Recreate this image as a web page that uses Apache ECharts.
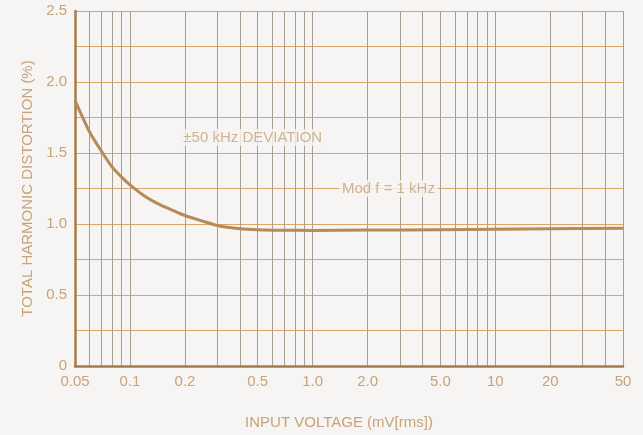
<!DOCTYPE html>
<html lang="en">
  <head>
    <meta charset="UTF-8" />
    <title>THD vs Input Voltage</title>
    <script src="https://cdn.jsdelivr.net/npm/echarts@6.0.0/dist/echarts.min.js"></script>
    <style>
      body {
        margin: 0;
        padding: 0;
        background: #f6f5f3;
      }
      #main {
        width: 643px;
        height: 435px;
      }
    </style>
  </head>
  <body>
    <div id="main"></div>

    <script>
      // curve
      const inputVoltage = [0.05, 0.06, 0.07, 0.08, 0.09, 0.1, 0.12, 0.14, 0.17, 0.2, 0.25, 0.3, 0.4, 0.5, 0.7, 1.0, 2.0, 5.0, 10, 20, 50];
      const thd = [1.87, 1.65, 1.51, 1.4, 1.33, 1.275, 1.197, 1.147, 1.098, 1.06, 1.02, 0.99, 0.967, 0.96, 0.956, 0.955, 0.957, 0.96, 0.963, 0.966, 0.97];

      // log paper grid lines and labelled ticks
      const xGridValues = [
        0.05, 0.06, 0.07, 0.08, 0.09,
        0.1, 0.2, 0.3, 0.4, 0.5, 0.6, 0.7, 0.8, 0.9,
        1, 2, 3, 4, 5, 6, 7, 8, 9,
        10, 20, 30, 40, 50,
      ];
      const xLabelValues = [0.05, 0.1, 0.2, 0.5, 1, 2, 5, 10, 20, 50];
      const xLabelTexts = ["0.05", "0.1", "0.2", "0.5", "1.0", "2.0", "5.0", "10", "20", "50"];
      const yLabelValues = [0, 0.5, 1, 1.5, 2, 2.5];
      const yLabelTexts = ["0", "0.5", "1.0", "1.5", "2.0", "2.5"];

      // annotations: [x, y, text]
      const notes = [
        [0.47, 1.61, "±50 kHz DEVIATION"],
        [2.6, 1.25, "Mod f = 1 kHz"],
      ];

      const textColor = "#c6a37a";
      const font = "'Liberation Sans', Arial, sans-serif";

      const myChart = echarts.init(document.getElementById("main"));
      const option = {
        backgroundColor: "#f6f5f3",
        animation: false,
        grid: { left: 75, right: 20, top: 11, bottom: 69 },
        xAxis: {
          type: "log",
          logBase: 10,
          min: 0.05,
          max: 50,
          name: "INPUT VOLTAGE (mV[rms])",
          nameLocation: "middle",
          nameGap: 49,
          nameTextStyle: {
            color: textColor,
            fontSize: 15,
            fontFamily: font,
            padding: [0, 20, 0, 0],
          },
          axisLine: { show: true, lineStyle: { color: "#a47c4c", width: 2.5 } },
          axisTick: { show: false, customValues: xGridValues },
          axisLabel: {
            customValues: xLabelValues,
            color: textColor,
            fontSize: 15,
            fontFamily: font,
            margin: 8,
            formatter: function (v) {
              const i = xLabelValues.findIndex((d) => Math.abs(d - v) < 1e-9);
              return i >= 0 ? xLabelTexts[i] : "";
            },
          },
          splitLine: { show: true, lineStyle: { color: "#ab9f92", width: 1 } },
        },
        yAxis: {
          type: "value",
          min: 0,
          max: 2.5,
          interval: 0.25,
          name: "TOTAL HARMONIC DISTORTION (%)",
          nameLocation: "middle",
          nameGap: 40,
          nameTextStyle: { color: textColor, fontSize: 15, fontFamily: font },
          axisLine: { show: true, lineStyle: { color: "#a47c4c", width: 2.5 } },
          axisTick: { show: false },
          axisLabel: {
            customValues: yLabelValues,
            color: textColor,
            fontSize: 15,
            fontFamily: font,
            margin: 8,
            formatter: function (v) {
              const i = yLabelValues.findIndex((d) => Math.abs(d - v) < 1e-9);
              return i >= 0 ? yLabelTexts[i] : "";
            },
          },
          splitLine: { show: true, lineStyle: { color: "#dca56a", width: 1.2 } },
        },
        series: [
          {
            name: "THD",
            type: "line",
            data: inputVoltage.map((x, i) => [x, thd[i]]),
            smooth: 0.3,
            showSymbol: false,
            lineStyle: { color: "#b68b57", width: 3 },
            z: 5,
          },
          {
            name: "notes",
            type: "scatter",
            data: notes.map((n) => ({ value: [n[0], n[1]], name: n[2] })),
            symbolSize: 0,
            label: {
              show: true,
              position: "inside",
              formatter: "{b}",
              color: textColor,
              fontSize: 15,
              fontFamily: font,
              backgroundColor: "#f6f5f3",
              padding: [1, 3],
            },
            z: 6,
          },
        ],
      };

      myChart.setOption(option);
    </script>
  </body>
</html>
